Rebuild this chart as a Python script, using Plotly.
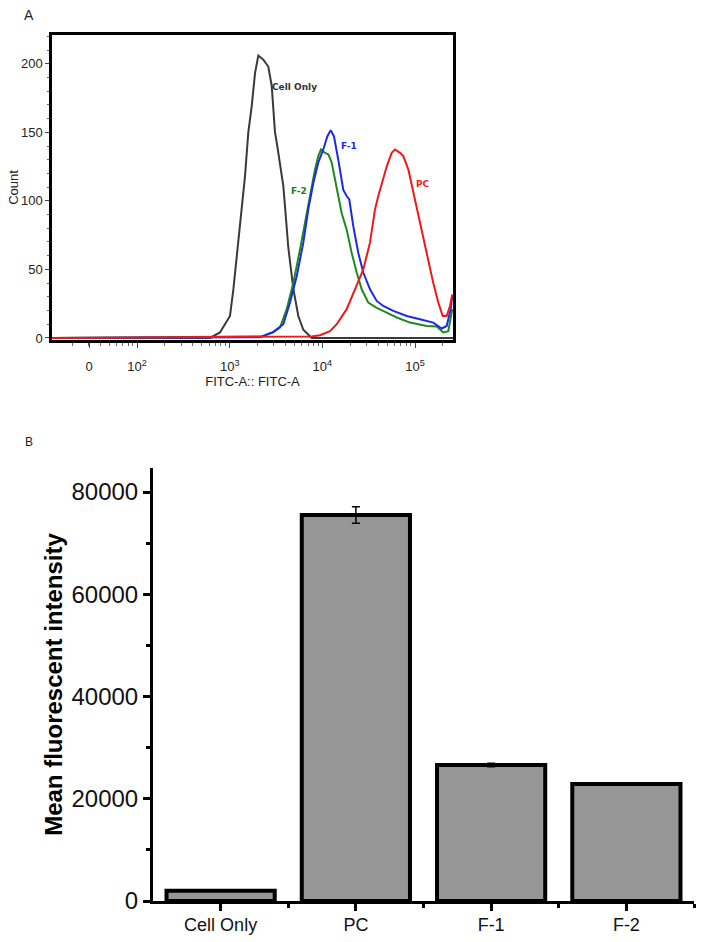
import math
import plotly.graph_objects as go

# ---------------- Panel A: flow cytometry histograms ----------------
# FITC-A intensity (x) and event count (y)
cell_only_fitc = [12, 613, 785, 1007, 1094, 1208, 1315, 1463, 1588, 1727, 1875, 2034,
                  2304, 2609, 2839, 3081, 3262, 3487, 3786, 3950, 4288, 4855, 5496,
                  6223, 7348, 7670, 256000]
cell_only_count = [0, 0, 4, 16, 35, 62, 89, 118, 150, 169, 193, 206,
                   203, 198, 184, 150, 140, 128, 111, 96, 66, 36, 16,
                   6, 1.5, 0, 0]

f2_fitc = [12, 2214, 2953, 3487, 4120, 4855, 5734, 6771, 7665, 8322, 9034, 9658,
           10667, 11577, 12597, 14267, 16150, 18288, 20709, 23442, 26541, 31270,
           38540, 49390, 63320, 88100, 133460, 171000, 201500, 228100, 251900]
f2_count = [0, 1, 4, 7.6, 21, 40, 64.6, 91, 108, 123, 132.7, 137.5,
            135, 134, 128, 108, 91, 79, 62, 47.7, 35.5, 25.8,
            22, 18.5, 14.9, 11.2, 8.7, 8.3, 4, 5, 21]

f1_fitc = [12, 2123, 2953, 3786, 4473, 5283, 6223, 7045, 7976, 9034, 10225, 11294,
           12288, 13337, 14843, 16806, 18288, 19508, 21541, 24396, 27620, 32620,
           38540, 45390, 58190, 81210, 112950, 157170, 193630, 219200, 242100, 251900]
f1_count = [0, 0.5, 4.4, 10, 25.8, 45, 69.5, 93.8, 113, 128, 137.5, 147,
            151.6, 147, 130, 108, 103.5, 101, 81.6, 62, 47.7, 35.5,
            27, 23.3, 19.7, 16, 13.6, 11.2, 6.9, 8.7, 21, 30.6]

pc_fitc = [12, 7665, 9421, 12078, 14267, 18288, 22473, 27620, 32620, 36940, 40090,
           43630, 49390, 55930, 60700, 68740, 74610, 84490, 95630, 108270, 122620,
           138850, 157170, 177950, 198500, 219200, 237900, 251900]
pc_count = [0, 1, 2, 5, 10, 21, 35.5, 50, 69.5, 93.8, 103.5,
            113, 125, 135, 137.5, 135, 132.7, 123, 106, 91, 74,
            55, 40, 25.8, 16, 16, 23.3, 31.8]

hist_tickvals = [30.4, 100, 1000, 10000, 100000]
hist_ticktext = ["0", "10<sup>2</sup>", "10<sup>3</sup>", "10<sup>4</sup>", "10<sup>5</sup>"]

# curve labels: (text, x, y, colour)
curve_labels = [("Cell Only", 5058, 183, "#333333"),
                ("F-1", 19360, 140, "#1a2ae6"),
                ("F-2", 5636, 107, "#1e7d1e"),
                ("PC", 122600, 112, "#ee1c1c")]

# ---------------- Panel B: mean fluorescent intensity ----------------
categories = ["Cell Only", "PC", "F-1", "F-2"]
mfi = [2000, 75500, 26600, 22900]
mfi_err = [0, 1620, 350, 0]

FONT = "Liberation Sans, Arial, sans-serif"

fig = go.Figure()

series = [
    (cell_only_fitc, cell_only_count, "#3a3a3a"),
    (f2_fitc, f2_count, "#1e8a1e"),
    (f1_fitc, f1_count, "#1a2ae6"),
    (pc_fitc, pc_count, "#f01818"),
]
for xs, ys, col in series:
    fig.add_trace(go.Scatter(x=xs, y=ys, mode="lines", line=dict(color=col, width=2),
                             xaxis="x", yaxis="y", showlegend=False, hoverinfo="skip"))

fig.add_trace(go.Bar(
    x=list(range(len(categories))), y=mfi, width=0.8,
    marker=dict(color="#969696", line=dict(color="black", width=4)),
    error_y=dict(type="data", array=mfi_err, color="black", thickness=1.5, width=4),
    xaxis="x2", yaxis="y2", showlegend=False))

annotations = []
for text, x, y, col in curve_labels:
    annotations.append(dict(text="<b>%s</b>" % text, x=math.log10(x), y=y,
                            xref="x", yref="y", showarrow=False,
                            xanchor="center", yanchor="middle",
                            font=dict(family="DejaVu Sans, Verdana, sans-serif", size=9, color=col)))
annotations.append(dict(text="A", x=29 / 704, y=1 - 15 / 942, xref="paper", yref="paper",
                        xanchor="center", yanchor="middle",
                        showarrow=False, font=dict(family=FONT, size=14, color="#222")))
annotations.append(dict(text="B", x=29 / 704, y=1 - 442 / 942, xref="paper", yref="paper",
                        xanchor="center", yanchor="middle",
                        showarrow=False, font=dict(family=FONT, size=12, color="#222")))

fig.update_layout(
    width=704, height=942, margin=dict(l=0, r=0, t=0, b=0, autoexpand=False),
    paper_bgcolor="white", plot_bgcolor="white",
    font=dict(family=FONT, color="#222"),
    annotations=annotations,
    xaxis=dict(type="log", domain=[52 / 704, 453 / 704], range=[1.083, 5.409],
               anchor="y", tickmode="array", tickvals=hist_tickvals, ticktext=hist_ticktext,
               ticks="outside", ticklen=5, tickcolor="#444", tickfont=dict(size=13),
               ticklabelstandoff=8,
               minor=dict(ticks="outside", ticklen=3, dtick="D1", tickcolor="#666", showgrid=False),
               showline=True, linecolor="black", linewidth=2.5, mirror=True,
               showgrid=False, zeroline=False,
               title=dict(text="FITC-A:: FITC-A", font=dict(size=13), standoff=0)),
    yaxis=dict(domain=[1 - 340 / 942, 1 - 35 / 942], range=[-1.5, 221], anchor="x",
               tickvals=[0, 50, 100, 150, 200], ticks="outside", ticklen=4, tickcolor="#444",
               tickfont=dict(size=13),
               minor=dict(ticks="outside", ticklen=2, dtick=10, tickcolor="#666", showgrid=False),
               showline=True, linecolor="black", linewidth=2.5, mirror=True,
               showgrid=False, zeroline=False,
               title=dict(text="Count", font=dict(size=13), standoff=0)),
    xaxis2=dict(domain=[153 / 704, 694 / 704], range=[-0.5, 3.5], anchor="y2",
                tickmode="array", tickvals=list(range(len(categories))), ticktext=categories,
                ticks="outside", ticklen=7, tickwidth=2.5, tickcolor="black",
                tickfont=dict(size=18, color="#111"), ticklabelstandoff=-2,
                minor=dict(tickmode="array", tickvals=[0.5, 1.5, 2.5, 3.5], ticks="outside",
                           ticklen=4, tickwidth=2.5, tickcolor="black", showgrid=False),
                showline=True, linecolor="black", linewidth=3, showgrid=False, zeroline=False),
    yaxis2=dict(domain=[1 - 901 / 942, 1 - 468 / 942], range=[0, 84700], anchor="x2",
                tickvals=[0, 20000, 40000, 60000, 80000], tickformat="d",
                ticks="outside", ticklen=7,
                tickwidth=2.5, tickcolor="black", tickfont=dict(size=24, color="#111"),
                minor=dict(tickmode="array", tickvals=[10000, 30000, 50000, 70000], ticks="outside",
                           ticklen=4, tickwidth=2.5, tickcolor="black", showgrid=False),
                showline=True, linecolor="black", linewidth=3, showgrid=False, zeroline=False,
                title=dict(text="<b>Mean fluorescent intensity</b>",
                           font=dict(size=24, color="black"), standoff=3)),
)

fig.write_html("out.html", config={"displayModeBar": False},
               post_script="document.body.style.margin='0';document.body.style.padding='0';"
                           "document.body.style.overflow='hidden';")
